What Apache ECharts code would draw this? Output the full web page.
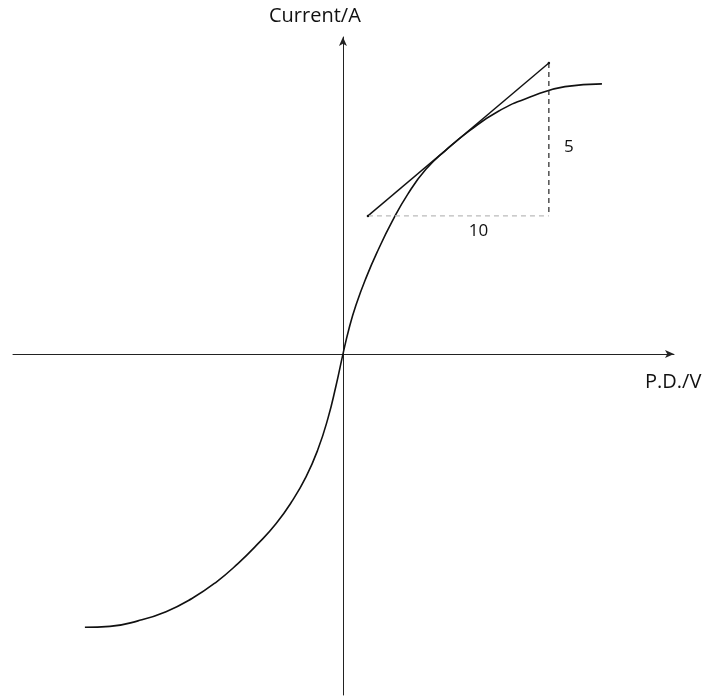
<!DOCTYPE html>
<html>
<head>
<meta charset="utf-8">
<script src="https://cdn.jsdelivr.net/npm/echarts@6/dist/echarts.min.js"></script>
<style>
  html, body { margin: 0; padding: 0; background: #fff; }
  #chart { width: 706px; height: 698px; }
</style>
</head>
<body>
<div id="chart"></div>
<script>
// I-V curve points (x = P.D., y = current)
var curveX = [-14.25, -12.87, -11.32, -9.77, -8.34, -7.01, -5.80, -4.69, -3.70, -2.82, -2.04, -1.38, -0.83, -0.39, 0,
              0.33, 0.72, 1.27, 1.93, 2.71, 3.59, 4.58, 5.69, 7.01, 8.56, 10.33, 12.26, 14.30];
var curveY = [-8.92, -8.89, -8.71, -8.41, -7.98, -7.45, -6.84, -6.19, -5.54, -4.81, -4.01, -3.11, -2.10, -1.05, 0,
              0.82, 1.60, 2.48, 3.38, 4.32, 5.23, 6.03, 6.66, 7.30, 7.92, 8.39, 8.73, 8.82];

// tangent and its rise/run triangle
var tangentX = [1.38, 11.37];
var tangentY = [4.51, 9.50];
var runLabel = '10';
var riseLabel = '5';

var curve = curveX.map(function (x, i) { return [x, curveY[i]]; });
var tangent = tangentX.map(function (x, i) { return [x, tangentY[i]]; });
var runLine = [[tangentX[0], tangentY[0]], [tangentX[1], tangentY[0]]];
var riseLine = [[tangentX[1], tangentY[1]], [tangentX[1], tangentY[0]]];

var myChart = echarts.init(document.getElementById('chart'));

var font = '"Open Sans", "Noto Sans", sans-serif';

option = {
    animation: false,
    backgroundColor: '#fff',
    grid: { left: 13, right: 32, top: 37, bottom: 3 },
    xAxis: {
        type: 'value',
        min: -18.22,
        max: 18.28,
        axisLine: {
            onZero: true,
            symbol: ['none', 'arrow'],
            symbolSize: [6, 9],
            lineStyle: { color: '#222', width: 1 }
        },
        axisTick: { show: false },
        axisLabel: { show: false },
        splitLine: { show: false }
    },
    yAxis: {
        type: 'value',
        min: -11.13,
        max: 10.35,
        axisLine: {
            onZero: true,
            symbol: ['none', 'arrow'],
            symbolSize: [6, 9],
            lineStyle: { color: '#222', width: 1 }
        },
        axisTick: { show: false },
        axisLabel: { show: false },
        splitLine: { show: false }
    },
    graphic: [
        {
            type: 'text',
            left: 269,
            top: 6,
            style: { text: 'Current/A', fill: '#111', font: '20px ' + font }
        },
        {
            type: 'text',
            left: 645,
            top: 372,
            style: { text: 'P.D./V', fill: '#111', font: '20px ' + font }
        }
    ],
    series: [
        {
            type: 'line',
            data: curve,
            smooth: 0.5,
            showSymbol: false,
            lineStyle: { color: '#111', width: 1.6 }
        },
        {
            type: 'line',
            data: tangent,
            showSymbol: true,
            symbol: 'circle',
            symbolSize: 2.5,
            itemStyle: { color: '#111' },
            lineStyle: { color: '#111', width: 1.4 }
        },
        {
            type: 'line',
            data: runLine,
            showSymbol: false,
            lineStyle: { color: '#bbb', width: 1.2, type: [5, 4] },
            markPoint: {
                symbolSize: 0,
                data: [{
                    coord: [(tangentX[0] + tangentX[1]) / 2, tangentY[0]],
                    label: { show: true, formatter: runLabel, color: '#111', fontSize: 17, fontFamily: font, offset: [20, 15] }
                }]
            }
        },
        {
            type: 'line',
            data: riseLine,
            showSymbol: false,
            lineStyle: { color: '#222', width: 1.2, type: [5, 4] },
            markPoint: {
                symbolSize: 0,
                data: [{
                    coord: [tangentX[1], (tangentY[0] + tangentY[1]) / 2],
                    label: { show: true, formatter: riseLabel, color: '#111', fontSize: 17, fontFamily: font, offset: [20, 8] }
                }]
            }
        }
    ]
};

myChart.setOption(option);
</script>
</body>
</html>
